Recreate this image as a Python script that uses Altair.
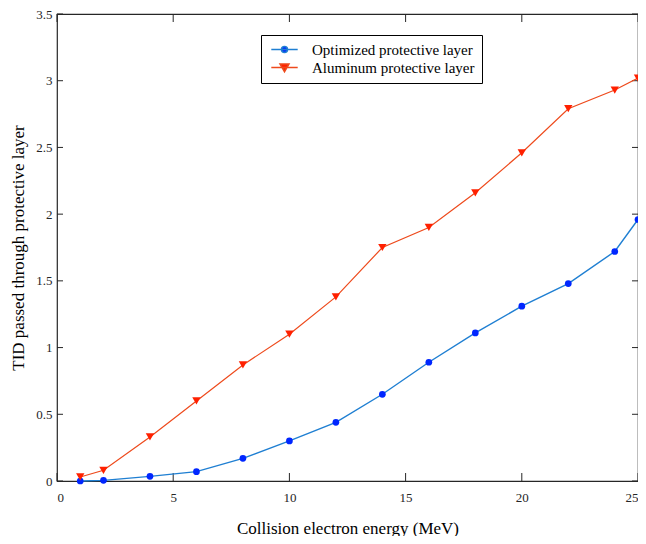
import altair as alt
import pandas as pd

energy = [1, 2, 4, 6, 8, 10, 12, 14, 16, 18, 20, 22, 24, 25]
optimized = [0.0, 0.005, 0.035, 0.07, 0.17, 0.30, 0.44, 0.65, 0.89, 1.11, 1.31, 1.48, 1.72, 1.96]
aluminum = [0.03, 0.08, 0.33, 0.60, 0.87, 1.10, 1.38, 1.75, 1.90, 2.16, 2.46, 2.79, 2.93, 3.02]
series_names = ["Optimized protective layer", "Aluminum protective layer"]
x_ticks = [0, 5, 10, 15, 20, 25]
y_ticks = [0, 0.5, 1, 1.5, 2, 2.5, 3, 3.5]

line_colors = ["#1F7FD2", "#EE4A1C"]
marker_colors = ["#0026FF", "#FF2000"]
legend_shapes = [
    "M-2.2,0H2.2M-0.5,0A0.5,0.5 0 1,0 0.5,0A0.5,0.5 0 1,0 -0.5,0Z",
    "M-2.2,0H2.2M-0.75,-0.6L0.75,-0.6L0,0.7Z",
]

W, H = 581, 467
TOP = 6
FONT = "Liberation Serif"
BOX = "#262626"

df = pd.DataFrame({
    "energy": energy * 2,
    "tid": optimized + aluminum,
    "series": [series_names[0]] * len(energy) + [series_names[1]] * len(energy),
})
xt = pd.DataFrame({"energy": x_ticks})
yt = pd.DataFrame({"tid": y_ticks})

xs = alt.Scale(domain=[0, 25], nice=False, zero=False)
ys = alt.Scale(domain=[0, 3.5], nice=False, zero=False)

axis_style = dict(labelFont=FONT, labelFontSize=13, labelColor="#262626",
                  titleFont=FONT, titleFontSize=17, titleFontWeight="normal",
                  titleColor="black", domain=False, ticks=False, grid=False)

X = alt.X("energy:Q", scale=xs, title="Collision electron energy (MeV)",
          axis=alt.Axis(values=x_ticks, labelPadding=10, titlePadding=16, **axis_style))
Y = alt.Y("tid:Q", scale=ys, title="TID passed through protective layer",
          axis=alt.Axis(values=y_ticks, format="~g", labelPadding=5, titlePadding=8, **axis_style))


def series_data(i):
    return alt.Chart(df).transform_filter(alt.datum.series == series_names[i])


line_a = series_data(0).mark_line(strokeWidth=1.4, color=line_colors[0]).encode(x=X, y=Y)
line_b = series_data(1).mark_line(strokeWidth=1.2, color=line_colors[1]).encode(x=X, y=Y)
circles = series_data(0).mark_point(shape="circle", filled=True, size=45, opacity=1,
                                    color=marker_colors[0]).encode(x=X, y=Y)
triangles = series_data(1).mark_point(shape="triangle-down", filled=True, size=70, opacity=1,
                                      color=marker_colors[1]).encode(x=X, y=Y)

leg = alt.Legend(
    title=None, orient="none", legendX=204, legendY=35 - 8 - TOP,
    fillColor="white", strokeColor="black", padding=7,
    labelFont=FONT, labelFontSize=15, labelColor="black", labelLimit=400,
    symbolSize=144, symbolStrokeWidth=1.5, symbolOffset=9, labelOffset=20,
    rowPadding=2,
)

legend_layer = alt.Chart(df).transform_filter("false").mark_point(
    size=144, opacity=1, strokeWidth=1.5, filled=False
).encode(
    x=X, y=Y,
    stroke=alt.Stroke("series:N", scale=alt.Scale(domain=series_names, range=line_colors), legend=leg),
    fill=alt.Fill("series:N", scale=alt.Scale(domain=series_names, range=marker_colors), legend=leg),
    shape=alt.Shape("series:N", scale=alt.Scale(domain=series_names, range=legend_shapes), legend=leg),
)

xtick_b = alt.Chart(xt).mark_rule(color=BOX, strokeWidth=1).encode(
    x=X, y=alt.value(H), y2=alt.value(H - 8))
xtick_t = alt.Chart(xt).mark_rule(color=BOX, strokeWidth=1).encode(
    x=X, y=alt.value(0), y2=alt.value(8))
ytick_l = alt.Chart(yt).mark_rule(color=BOX, strokeWidth=1).encode(
    y=Y, x=alt.value(0), x2=alt.value(6))
ytick_r = alt.Chart(yt).mark_rule(color=BOX, strokeWidth=1).encode(
    y=Y, x=alt.value(W - 6), x2=alt.value(W))

chart = alt.layer(
    xtick_b, xtick_t, ytick_l, ytick_r, line_a, line_b, circles, triangles, legend_layer
).properties(
    width=W, height=H,
    autosize=alt.AutoSizeParams(type="none"),
    padding={"left": 49, "top": TOP, "right": 0, "bottom": 55},
    background="white",
).configure_view(
    stroke=BOX, strokeWidth=1.2,
)

chart.save("out.html", embed_options={"renderer": "svg", "actions": False})
